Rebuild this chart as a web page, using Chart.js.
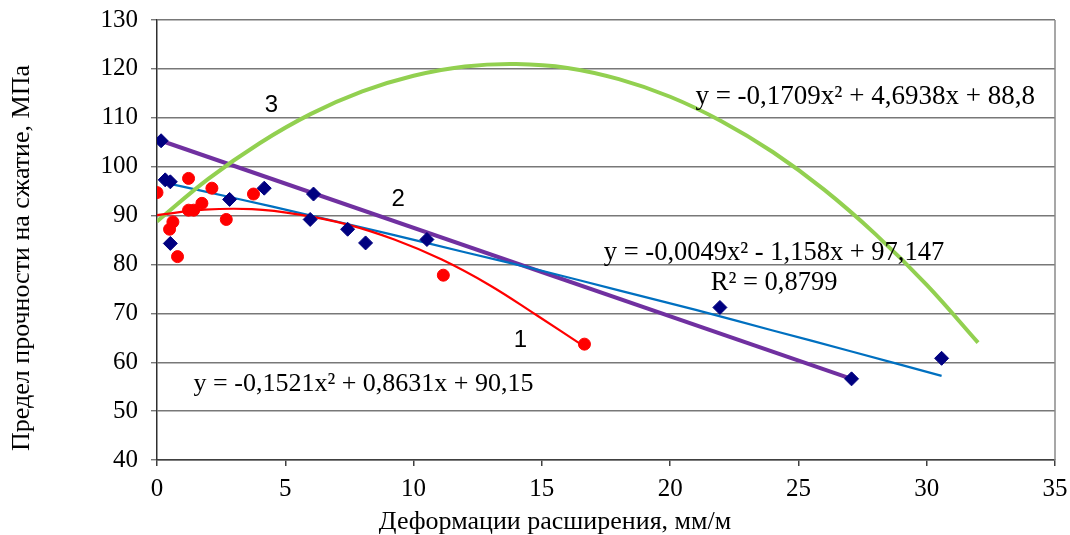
<!DOCTYPE html>
<html>
<head>
<meta charset="utf-8">
<script src="https://cdn.jsdelivr.net/npm/chart.js@4.4.1/dist/chart.umd.min.js"></script>
<style>
  body { margin: 0; background: #fff; }
</style>
</head>
<body>
<canvas id="scatterChart" width="1070" height="535"></canvas>
<script>
// measured points, series 1 (red circles)
const redX = [0.0, 0.49, 0.62, 0.80, 1.23, 1.23, 1.43, 1.75, 2.14, 2.70, 3.76, 11.16, 16.66];
const redY = [94.7, 87.2, 88.7, 81.6, 97.6, 91.1, 91.1, 92.5, 95.6, 89.2, 94.4, 77.8, 63.7];

// measured points, series 2 (blue diamonds)
const blueX = [0.16, 0.32, 0.52, 0.52, 2.83, 4.18, 6.10, 5.97, 7.43, 8.13, 10.52, 21.94, 27.07, 30.58];
const blueY = [105.3, 97.3, 96.9, 84.3, 93.3, 95.6, 94.4, 89.2, 87.2, 84.4, 85.1, 71.2, 56.6, 60.8];

// trend curves
const redTrendX = [0, 1.85, 3.7, 5.55, 7.4, 9.25, 11.1, 12.95, 14.8, 16.66];
const redTrendY = [90.1, 91.2, 91.3, 90.2, 88.2, 85.1, 81.0, 75.8, 69.6, 63.2];

const blueTrendX = [0.16, 3, 6, 9, 12, 15, 18, 21, 24, 27, 30.58];
const blueTrendY = [96.9, 93.6, 90.0, 86.3, 82.5, 78.7, 74.7, 70.7, 66.5, 62.3, 57.2];

const greenTrendX = [0, 2, 4, 6, 8, 10, 12, 14, 16, 18, 20, 22, 24, 26, 28, 30, 32];
const greenTrendY = [88.8, 97.5, 104.8, 110.8, 115.4, 118.6, 120.5, 121.0, 120.2, 117.9, 114.3, 109.3, 103.0, 95.3, 86.2, 75.8, 64.0];

const purpleX = [0.16, 27.07];
const purpleY = [105.3, 56.6];

const xTicks = [0, 5, 10, 15, 20, 25, 30, 35];
const yTicks = [40, 50, 60, 70, 80, 90, 100, 110, 120, 130];

const xTitle = 'Деформации расширения, мм/м';
const yTitle = 'Предел прочности на сжатие, МПа';

const pts = (xs, ys) => xs.map((x, i) => ({ x: x, y: ys[i] }));

const serif = '"Liberation Serif", "Times New Roman", serif';
const sans = '"Liberation Sans", Arial, sans-serif';

// text placed on the plot (data coordinates)
const notes = [
  { text: 'y = -0,1709x² + 4,6938x + 88,8', x: 27.6, y: 114.3, font: '27px ' + serif },
  { text: 'y = -0,0049x² - 1,158x + 97,147', x: 24.05, y: 82.3, font: '26.5px ' + serif },
  { text: 'R² = 0,8799', x: 24.05, y: 76.2, font: '26.5px ' + serif },
  { text: 'y = -0,1521x² + 0,8631x + 90,15', x: 8.05, y: 55.55, font: '26px ' + serif },
  { text: '3', x: 4.46, y: 112.6, font: '24px ' + sans },
  { text: '2', x: 9.4, y: 93.4, font: '24px ' + sans },
  { text: '1', x: 14.16, y: 64.55, font: '24px ' + sans }
];

const extras = {
  id: 'extras',
  afterDatasetsDraw(chart) {
    const { ctx, chartArea, scales } = chart;
    ctx.save();
    ctx.strokeStyle = '#8a8a8a';
    ctx.lineWidth = 1.5;
    ctx.beginPath();
    ctx.moveTo(chartArea.right, chartArea.top);
    ctx.lineTo(chartArea.right, chartArea.bottom);
    ctx.stroke();

    ctx.fillStyle = '#000';
    ctx.textAlign = 'center';
    ctx.textBaseline = 'middle';
    notes.forEach(n => {
      ctx.font = n.font;
      ctx.fillText(n.text, scales.x.getPixelForValue(n.x), scales.y.getPixelForValue(n.y));
    });

    ctx.font = '26px ' + serif;
    ctx.fillText(xTitle, 555, 522);
    ctx.translate(22, 258);
    ctx.rotate(-Math.PI / 2);
    ctx.fillText(yTitle, 0, 0);
    ctx.restore();
  }
};

const ctx = document.getElementById('scatterChart');
new Chart(ctx, {
  type: 'scatter',
  data: {
    datasets: [
      {
        label: '1',
        data: pts(redX, redY),
        backgroundColor: '#ff0000',
        borderColor: '#ff0000',
        pointStyle: 'circle',
        pointRadius: 6,
        order: 1
      },
      {
        label: '2',
        data: pts(blueX, blueY),
        backgroundColor: '#000080',
        borderColor: '#000080',
        pointStyle: 'rectRot',
        pointRadius: 7,
        order: 0
      },
      {
        label: 'green',
        data: pts(greenTrendX, greenTrendY),
        showLine: true,
        borderColor: '#92d050',
        borderWidth: 4,
        pointRadius: 0,
        tension: 0.4,
        order: 3
      },
      {
        label: 'purple',
        data: pts(purpleX, purpleY),
        showLine: true,
        borderColor: '#7030a0',
        borderWidth: 4,
        pointRadius: 0,
        order: 5
      },
      {
        label: 'blue trend',
        data: pts(blueTrendX, blueTrendY),
        showLine: true,
        borderColor: '#0070c0',
        borderWidth: 2.2,
        pointRadius: 0,
        tension: 0.4,
        order: 4
      },
      {
        label: 'red trend',
        data: pts(redTrendX, redTrendY),
        showLine: true,
        borderColor: '#ff0000',
        borderWidth: 2.2,
        pointRadius: 0,
        tension: 0.4,
        order: 2
      }
    ]
  },
  options: {
    responsive: false,
    animation: false,
    layout: { padding: { left: 0, right: 15, top: 20, bottom: 0 } },
    plugins: {
      legend: { display: false },
      tooltip: { enabled: false }
    },
    scales: {
      x: {
        type: 'linear',
        min: 0,
        max: 35,
        afterBuildTicks: s => { s.ticks = xTicks.map(v => ({ value: v })); },
        afterFit: s => { s.height = 75; s.paddingLeft = 0; s.paddingRight = 0; },
        ticks: { font: { family: serif, size: 25 }, color: '#000', padding: 8 },
        grid: { drawOnChartArea: false, drawTicks: true, tickLength: 6, color: '#404040', lineWidth: 1.5 },
        border: { color: '#404040', width: 1.5 }
      },
      y: {
        min: 40,
        max: 130,
        afterBuildTicks: s => { s.ticks = yTicks.map(v => ({ value: v })); },
        afterFit: s => { s.width = 157; s.paddingTop = 0; s.paddingBottom = 0; },
        ticks: { font: { family: serif, size: 25 }, color: '#000', padding: 13 },
        grid: { color: '#787878', lineWidth: 1.4, tickLength: 6 },
        border: { color: '#303030', width: 1.5 }
      }
    }
  },
  plugins: [extras]
});
</script>
</body>
</html>
